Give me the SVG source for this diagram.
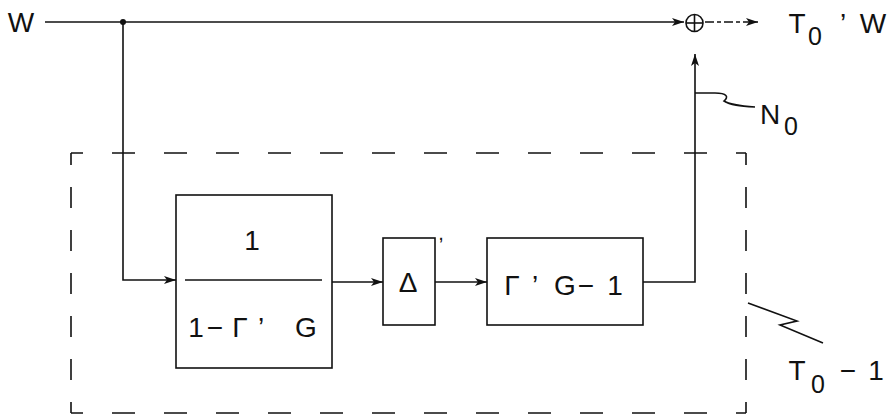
<svg xmlns="http://www.w3.org/2000/svg" width="892" height="419" viewBox="0 0 892 419">
  <style>
    .ln { fill: none; stroke: #111; stroke-width: 1.6; }
    .box { fill: none; stroke: #111; stroke-width: 1.6; }
    .dash { fill: none; stroke: #111; stroke-width: 1.6; }
    .t { font-family: "Liberation Sans", Arial, sans-serif; font-size: 28px; fill: #111; text-anchor: middle; }
    .sub { font-size: 25px; }
  </style>
  <defs>
    <marker id="arr" markerUnits="userSpaceOnUse" markerWidth="13" markerHeight="10" refX="12" refY="5" orient="auto">
      <path d="M0,1 L12,5 L0,9 L3,5 z" fill="#111"/>
    </marker>
  </defs>

  <rect width="892" height="419" fill="#fff"/>

  <!-- connectors -->
  <g id="connectors">
    <path class="ln" d="M45,22 L684,22" marker-end="url(#arr)"/>
    <path class="ln" d="M123,22 L123,280 L176,280" marker-end="url(#arr)"/>
    <path class="ln" d="M332,282 L383,282" marker-end="url(#arr)"/>
    <path class="ln" d="M435,282 L487,282" marker-end="url(#arr)"/>
    <path class="ln" d="M643,282 L695,282 L695,54" marker-end="url(#arr)"/>
    <path class="ln" d="M705,22 L758,22" stroke-dasharray="9 3 4 3" marker-end="url(#arr)"/>
  </g>

  <!-- input -->
  <g id="input-w">
    <text class="t" x="21" y="32">W</text>
  </g>
  <g id="junction">
    <circle cx="123" cy="22" r="3" fill="#111"/>
  </g>

  <!-- 1 / (1 - Γ' G) -->
  <g id="block-feedback">
    <rect class="box" x="176" y="195" width="156" height="173"/>
    <line class="ln" x1="185" y1="280" x2="322" y2="280" stroke-width="2"/>
    <text class="t" x="252" y="250">1</text>
    <text class="t" y="337"><tspan x="196">1</tspan><tspan x="215">−</tspan><tspan x="240">Γ</tspan><tspan x="261">’</tspan><tspan x="306">G</tspan></text>
  </g>

  <!-- Δ' -->
  <g id="block-delta">
    <rect class="box" x="383" y="238" width="52" height="87"/>
    <text class="t" x="408" y="292">Δ</text>
    <text class="t" x="441" y="240" style="font-size:20px">,</text>
  </g>

  <!-- Γ' G - 1 -->
  <g id="block-gain">
    <rect class="box" x="487" y="238" width="156" height="87"/>
    <text class="t" y="295"><tspan x="512">Γ</tspan><tspan x="535">’</tspan><tspan x="565">G</tspan><tspan x="586">−</tspan><tspan x="615">1</tspan></text>
  </g>

  <!-- summing point -->
  <g id="sum">
    <circle class="ln" cx="694.5" cy="23" r="8.5"/>
    <line class="ln" x1="686" y1="23" x2="703" y2="23"/>
    <line class="ln" x1="694.5" y1="14.5" x2="694.5" y2="31.5"/>
  </g>

  <!-- output -->
  <g id="output-label">
    <text class="t" y="33"><tspan x="797">T</tspan><tspan x="815" y="45" class="sub">0</tspan><tspan x="843" y="33">’</tspan><tspan x="873">W</tspan></text>
  </g>

  <!-- noise label -->
  <g id="noise-label">
    <path class="ln" d="M695,93 L715,93 C727,93 729,97 724,101 C730,105 740,106 755,107"/>
    <text class="t" y="124"><tspan x="770">N</tspan><tspan x="791" y="135" class="sub">0</tspan></text>
  </g>

  <!-- T0 - 1 dashed enclosure -->
  <g id="enclosure">
    <path class="dash" d="M71,153 L746,153" stroke-dasharray="23 29" stroke-dashoffset="11"/>
    <path class="dash" d="M71,413 L746,413" stroke-dasharray="23 29" stroke-dashoffset="11"/>
    <path class="dash" d="M71,153 L71,413" stroke-dasharray="21 22" stroke-dashoffset="9"/>
    <path class="dash" d="M746,153 L746,413" stroke-dasharray="21 22" stroke-dashoffset="9"/>
  </g>
  <g id="enclosure-label">
    <path class="ln" d="M748,303 L797,321 L780,325 L823,343"/>
    <text class="t" y="380"><tspan x="797">T</tspan><tspan x="818" y="393" class="sub">0</tspan><tspan x="848" y="380">−</tspan><tspan x="876">1</tspan></text>
  </g>
</svg>
